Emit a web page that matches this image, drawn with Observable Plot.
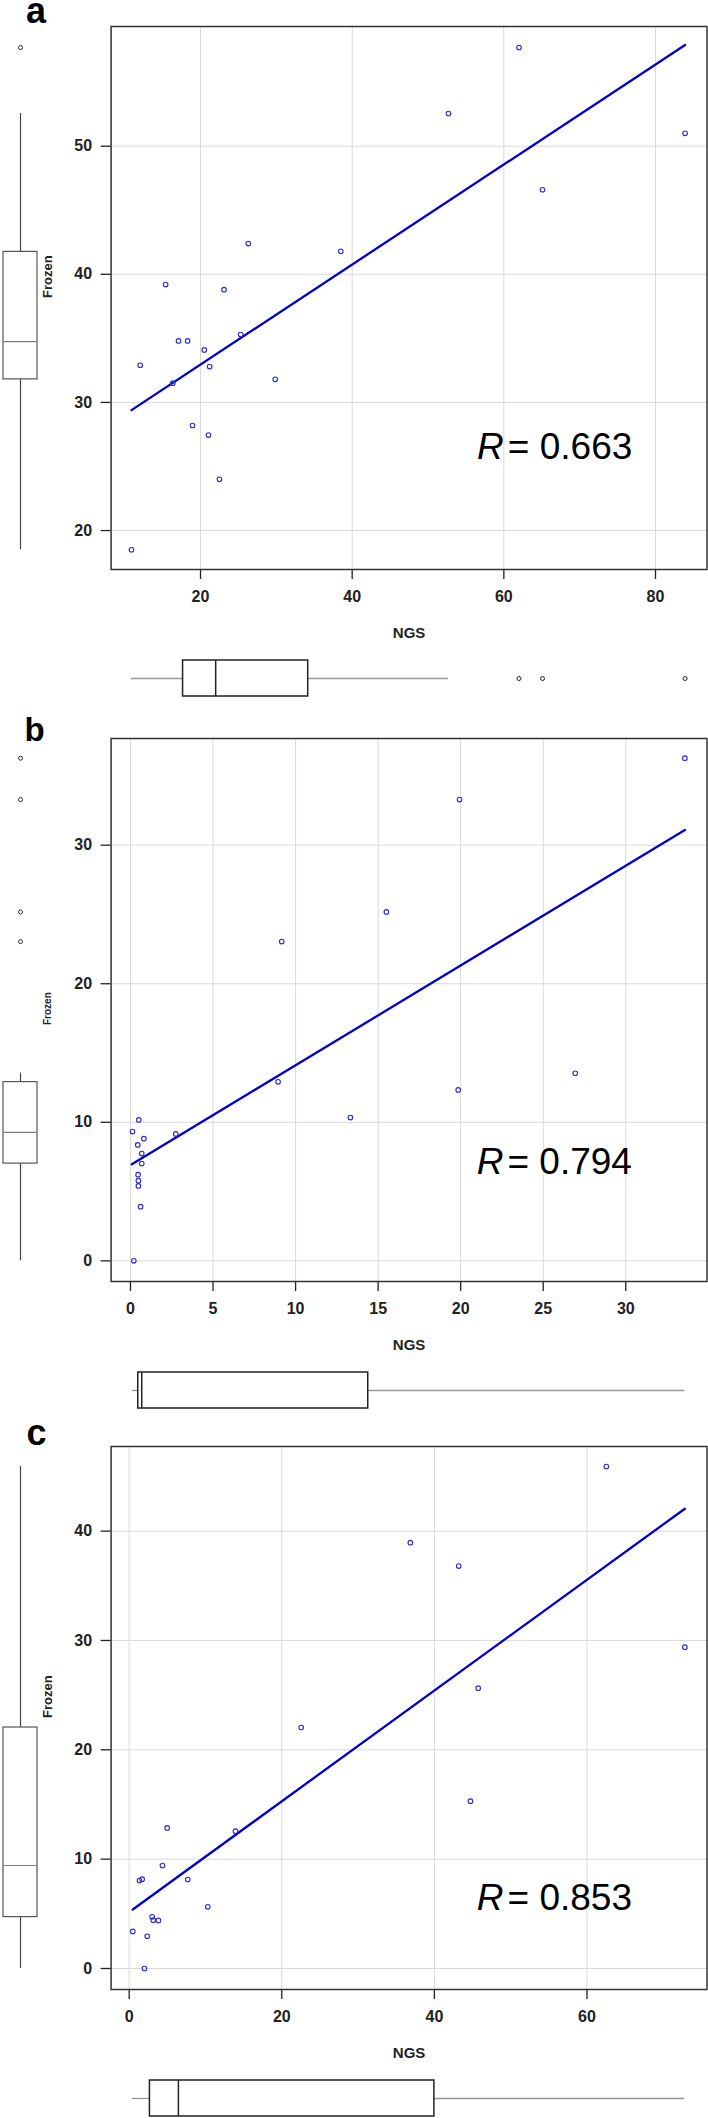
<!DOCTYPE html>
<html>
<head>
<meta charset="utf-8">
<script src="https://cdn.jsdelivr.net/npm/d3@7"></script>
<script src="https://cdn.jsdelivr.net/npm/@observablehq/plot@0.6"></script>
<style>
  body { margin: 0; background: #fff; }
  #root { position: relative; width: 708px; height: 2118px; overflow: hidden; background: #fff; }
  .piece { position: absolute; left: 0; }
  .piece svg { display: block; max-width: none; }
  .letter { position: absolute; font-family: "Liberation Sans", Arial, sans-serif; font-weight: bold; line-height: 20px; color: #000; }
</style>
</head>
<body>
<div id="root"></div>
<script>
// ---------- Panel a ----------
const ngsA    = [62.0, 52.7, 83.9, 65.1, 26.3, 38.5, 15.4, 23.1, 25.3, 17.1, 18.3, 20.5, 12.05, 21.2, 29.85, 16.35, 18.95, 21.05, 22.5, 10.9];
const frozenA = [57.7, 52.55, 51.0, 46.6, 42.4, 41.8, 39.2, 38.8, 35.3, 34.8, 34.8, 34.1, 32.9, 32.8, 31.8, 31.5, 28.2, 27.45, 24.0, 18.5];
const fitA    = [{ngs: 10.9, frozen: 29.4}, {ngs: 83.9, frozen: 57.9}];
const frozenBoxA = [18.5, 31.8, 34.75, 41.75, 52.55];   // lo, q1, median, q3, hi
const frozenOutA = [57.7];
const ngsBoxA    = [10.9, 17.7, 22.0, 34.2, 52.7];
const ngsOutA    = [62.0, 65.1, 83.9];
const xTicksA = [20, 40, 60, 80];
const yTicksA = [20, 30, 40, 50];
const xDomA = [8.21, 86.79];
const yDomA = [16.96, 59.34];
const rA = "0.663";
const rPosA = [60.0, 25.58];

// ---------- Panel b ----------
const ngsB    = [33.58, 19.93, 15.5, 9.16, 26.94, 8.94, 19.85, 13.32, 0.50, 0.12, 2.74, 0.81, 0.44, 0.68, 0.68, 0.46, 0.48, 0.48, 0.61, 0.2];
const frozenB = [36.28, 33.29, 25.18, 23.04, 13.54, 12.92, 12.34, 10.34, 10.17, 9.33, 9.16, 8.82, 8.37, 7.74, 7.02, 6.22, 5.79, 5.41, 3.91, 0];
const fitB    = [{ngs: 0.08, frozen: 6.97}, {ngs: 33.58, frozen: 31.1}];
const frozenBoxB = [0, 7.02, 9.28, 12.9, 13.55];
const frozenOutB = [23.04, 25.18, 33.29, 36.28];
const ngsBoxB    = [0.1, 0.47, 0.68, 14.4, 33.58];
const ngsOutB    = [];
const xTicksB = [0, 5, 10, 15, 20, 25, 30];
const yTicksB = [0, 10, 20, 30];
const xDomB = [-1.175, 34.92];
const yDomB = [-1.49, 37.70];
const rB = "0.794";
const rPosB = [22.59, 6.27];

// ---------- Panel c ----------
const ngsC    = [62.54, 36.85, 43.19, 72.83, 45.74, 22.54, 44.73, 4.98, 13.93, 4.36, 1.35, 1.7, 7.68, 10.3, 3.01, 3.15, 3.84, 0.47, 2.36, 2.0];
const frozenC = [45.91, 38.94, 36.8, 29.39, 25.64, 22.04, 15.3, 12.86, 12.56, 9.42, 8.05, 8.17, 8.14, 5.64, 4.73, 4.42, 4.4, 3.39, 2.95, 0];
const fitC    = [{ngs: 0.47, frozen: 5.4}, {ngs: 72.83, frozen: 42.05}];
const frozenBoxC = [0, 4.7, 9.42, 22.04, 45.91];
const frozenOutC = [];
const ngsBoxC    = [0.4, 2.72, 6.45, 40.0, 72.83];
const ngsOutC    = [];
const xTicksC = [0, 20, 40, 60];
const yTicksC = [0, 10, 20, 30, 40];
const xDomC = [-2.37, 75.73];
const yDomC = [-1.92, 47.74];
const rC = "0.853";
const rPosC = [49.06, 5.34];

const panels = [
  {letter: "a", fs: 36, top: 0,     lt: 0.8,    ll: 26,   ylabSize: 13, ylabDy: 0,
   ngs: ngsA, frozen: frozenA, fit: fitA, fb: frozenBoxA, fo: frozenOutA, nb: ngsBoxA, no: ngsOutA, xt: xTicksA, yt: yTicksA, xd: xDomA, yd: yDomA, r: rA, rp: rPosA},
  {letter: "b", fs: 33, top: 711.7, lt: 719.5,  ll: 24.5, ylabSize: 10, ylabDy: 15,
   ngs: ngsB, frozen: frozenB, fit: fitB, fb: frozenBoxB, fo: frozenOutB, nb: ngsBoxB, no: ngsOutB, xt: xTicksB, yt: yTicksB, xd: xDomB, yd: yDomB, r: rB, rp: rPosB},
  {letter: "c", fs: 36, top: 1420,  lt: 1422.5, ll: 26.5, ylabSize: 13, ylabDy: 0,
   ngs: ngsC, frozen: frozenC, fit: fitC, fb: frozenBoxC, fo: frozenOutC, nb: ngsBoxC, no: ngsOutC, xt: xTicksC, yt: yTicksC, xd: xDomC, yd: yDomC, r: rC, rp: rPosC}
];

const W = 708, ML = 110.6, MR = 1.5, MT = 26, FH = 543, MB = 81;
const FONT = '"Liberation Sans", Arial, Helvetica, sans-serif';
const TICKFONT = '"Liberation Sans Narrow", "Arial Narrow", "Liberation Sans", sans-serif';
const root = document.getElementById("root");

function place(node, top, width) {
  const d = document.createElement("div");
  d.className = "piece";
  d.style.top = top + "px";
  d.style.width = width + "px";
  d.appendChild(node);
  root.appendChild(d);
}

for (const p of panels) {
  const pts = p.ngs.map((x, i) => ({ngs: x, frozen: p.frozen[i]}));

  const main = Plot.plot({
    width: W, height: MT + FH + MB,
    marginLeft: ML, marginRight: MR, marginTop: MT, marginBottom: MB,
    style: {fontFamily: TICKFONT, fontSize: "16px", fontWeight: "bold", color: "#222", background: "transparent", overflow: "visible"},
    x: {domain: p.xd, label: null},
    y: {domain: p.yd, label: null},
    marks: [
      Plot.ruleX(p.xt, {x: d => d, stroke: "#d9d9d9", strokeWidth: 1}),
      Plot.ruleY(p.yt, {y: d => d, stroke: "#d9d9d9", strokeWidth: 1}),
      Plot.axisX({ticks: p.xt, tickSize: 10, tickPadding: 11, label: null, strokeWidth: 1.3, tickFormat: d => String(d)}),
      Plot.axisY({ticks: p.yt, tickSize: 10, tickPadding: 9, label: null, strokeWidth: 1.3, tickFormat: d => String(d)}),
      Plot.line(p.fit, {x: "ngs", y: "frozen", stroke: "#0000cd", strokeWidth: 2.3}),
      Plot.dot(pts, {x: "ngs", y: "frozen", r: 2.3, stroke: "#2b2bd0", strokeWidth: 1.1, fill: "none"}),
      Plot.text([p.rp], {x: d => d[0], y: d => d[1], text: () => "R", textAnchor: "end", lineAnchor: "bottom",
        fontFamily: FONT, fontSize: 37, fontStyle: "italic", fontWeight: "normal", fill: "#000"}),
      Plot.text([p.rp], {x: d => d[0], y: d => d[1], text: () => "= " + p.r, textAnchor: "start", lineAnchor: "bottom", dx: 4,
        fontFamily: FONT, fontSize: 37, fontWeight: "normal", fill: "#000"}),
      Plot.text(["Frozen"], {text: d => d, frameAnchor: "left", dx: -63, dy: p.ylabDy, rotate: -90,
        fontFamily: FONT, fontSize: p.ylabSize, fontWeight: "bold", fill: "#222"}),
      Plot.text(["NGS"], {text: d => d, frameAnchor: "bottom", dy: 68.5, lineAnchor: "bottom",
        fontFamily: FONT, fontSize: 15, fontWeight: "bold", fill: "#222"}),
      Plot.frame({stroke: "#333", strokeWidth: 1.5})
    ]
  });
  place(main, p.top, W);

  const leftBox = Plot.plot({
    width: 40, height: MT + FH + MB,
    marginLeft: 2.5, marginRight: 3, marginTop: MT, marginBottom: MB,
    style: {background: "transparent", overflow: "visible"},
    x: {type: "band", domain: ["Frozen"], padding: 0, axis: null},
    y: {domain: p.yd, axis: null},
    marks: [
      Plot.ruleX([p.fb], {x: () => "Frozen", y1: d => d[0], y2: d => d[1], stroke: "#444", strokeWidth: 1.2}),
      Plot.ruleX([p.fb], {x: () => "Frozen", y1: d => d[3], y2: d => d[4], stroke: "#444", strokeWidth: 1.2}),
      Plot.barY([p.fb], {x: () => "Frozen", y1: d => d[1], y2: d => d[3], fill: "white", stroke: "#555", strokeWidth: 1.2, inset: 0}),
      Plot.tickY([p.fb], {x: () => "Frozen", y: d => d[2], stroke: "#808080", strokeWidth: 1.2}),
      Plot.dot(p.fo, {x: () => "Frozen", y: d => d, r: 2, stroke: "#333", strokeWidth: 1, fill: "none"})
    ]
  });
  place(leftBox, p.top, 40);

  const bottomBox = Plot.plot({
    width: W, height: 55,
    marginLeft: ML, marginRight: MR, marginTop: 10, marginBottom: 9,
    style: {background: "transparent", overflow: "visible"},
    x: {domain: p.xd, axis: null},
    y: {type: "band", domain: ["NGS"], padding: 0, axis: null},
    marks: [
      Plot.ruleY([p.nb], {y: () => "NGS", x1: d => d[0], x2: d => d[1], stroke: "#999", strokeWidth: 1.3}),
      Plot.ruleY([p.nb], {y: () => "NGS", x1: d => d[3], x2: d => d[4], stroke: "#999", strokeWidth: 1.3}),
      Plot.barX([p.nb], {y: () => "NGS", x1: d => d[1], x2: d => d[3], fill: "white", stroke: "#222", strokeWidth: 1.5, inset: 0}),
      Plot.tickX([p.nb], {y: () => "NGS", x: d => d[2], stroke: "#222", strokeWidth: 1.5}),
      Plot.dot(p.no, {y: () => "NGS", x: d => d, r: 2, stroke: "#222", strokeWidth: 1, fill: "none"})
    ]
  });
  place(bottomBox, p.top + 650, W);

  const L = document.createElement("div");
  L.className = "letter";
  L.style.top = p.lt + "px";
  L.style.left = p.ll + "px";
  L.style.fontSize = p.fs + "px";
  L.textContent = p.letter;
  root.appendChild(L);
}
</script>
</body>
</html>
